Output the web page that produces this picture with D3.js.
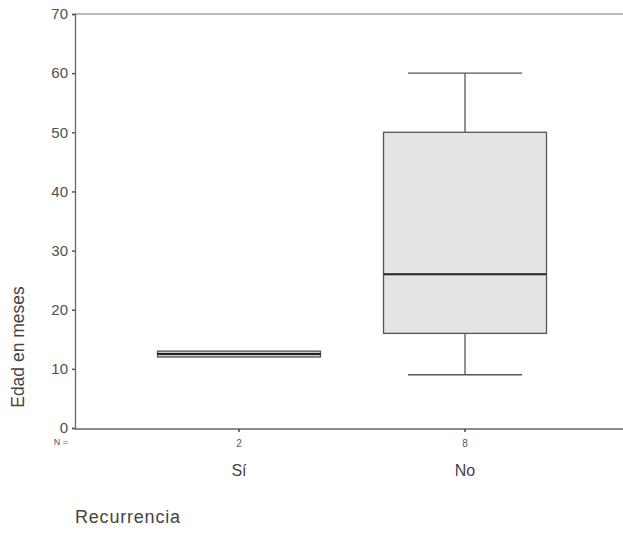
<!DOCTYPE html>
<html><head><meta charset="utf-8">
<script src="https://cdn.jsdelivr.net/npm/d3@7"></script>
<style>body{margin:0;background:#fff}svg{display:block}text{font-family:"Liberation Sans",Arial,sans-serif}</style>
</head><body>
<script>
const categories = ["Sí", "No"];
const counts = [2, 8];
const whiskerLow = [12, 9];
const q1 = [12, 16];
const medians = [12.5, 26];
const q3 = [13, 50];
const whiskerHigh = [13, 60];
const yTicks = [0, 10, 20, 30, 40, 50, 60, 70];

const W = 623, H = 534;
const svg = d3.select("body").append("svg").attr("width", W).attr("height", H);
const mLeft = 75, mRight = 623, mTop = 14, mBottom = 428;

const y = d3.scaleLinear().domain([0, 70]).range([mBottom, mTop]);
const x = d3.scaleBand().domain(categories).range([mLeft, 629]).paddingInner(0.279).paddingOuter(0.365);
const bw = x.bandwidth();

// frame
svg.append("line").attr("x1", mLeft).attr("x2", mRight).attr("y1", mTop).attr("y2", mTop).attr("stroke", "#777").attr("stroke-width", 1.2);
svg.append("line").attr("x1", mLeft).attr("x2", mRight).attr("y1", mBottom + 1).attr("y2", mBottom + 1).attr("stroke", "#666").attr("stroke-width", 1.3);

const yAxis = d3.axisLeft(y).tickValues(yTicks).tickSize(3).tickPadding(4);
const ga = svg.append("g").attr("transform", `translate(${mLeft},0)`).call(yAxis);
ga.select(".domain").attr("stroke", "#666").attr("stroke-width", 1.3);
ga.selectAll(".tick line").attr("stroke", "#555").attr("stroke-width", 1.5);
ga.selectAll(".tick text").style("font-size", "15px").style("font-family", "Liberation Sans, Arial, sans-serif").attr("fill", "#505050");

// x ticks
svg.selectAll(".xt").data(categories).enter().append("line")
  .attr("x1", d => x(d) + bw / 2).attr("x2", d => x(d) + bw / 2)
  .attr("y1", mBottom + 1).attr("y2", mBottom + 4).attr("stroke", "#444").attr("stroke-width", 1.5);

// N labels
svg.append("text").attr("x", 61).attr("y", 445).attr("text-anchor", "middle").style("font-size", "9px").attr("fill", "#555").text("N =");
svg.selectAll(".nl").data(categories).enter().append("text")
  .attr("x", d => x(d) + bw / 2).attr("y", 447).attr("text-anchor", "middle")
  .style("font-size", "10px").attr("fill", "#555").text((d, i) => counts[i]);
svg.selectAll(".cl").data(categories).enter().append("text")
  .attr("x", d => x(d) + bw / 2).attr("y", 476).attr("text-anchor", "middle")
  .style("font-size", "16px").attr("fill", "#444").text(d => d);

// boxes
const g = svg.selectAll(".box").data(categories).enter().append("g");
g.each(function(d, i) {
  const s = d3.select(this);
  const cx = x(d) + bw / 2, x0 = x(d);
  const capW = bw * 0.7;
  if (whiskerHigh[i] > q3[i]) {
    s.append("line").attr("x1", cx).attr("x2", cx).attr("y1", y(q3[i])).attr("y2", y(whiskerHigh[i])).attr("stroke", "#555").attr("stroke-width", 1.3);
    s.append("line").attr("x1", cx - capW / 2).attr("x2", cx + capW / 2).attr("y1", y(whiskerHigh[i])).attr("y2", y(whiskerHigh[i])).attr("stroke", "#555").attr("stroke-width", 1.3);
  }
  if (whiskerLow[i] < q1[i]) {
    s.append("line").attr("x1", cx).attr("x2", cx).attr("y1", y(q1[i])).attr("y2", y(whiskerLow[i])).attr("stroke", "#555").attr("stroke-width", 1.3);
    s.append("line").attr("x1", cx - capW / 2).attr("x2", cx + capW / 2).attr("y1", y(whiskerLow[i])).attr("y2", y(whiskerLow[i])).attr("stroke", "#555").attr("stroke-width", 1.3);
  }
  s.append("rect").attr("x", x0).attr("width", bw).attr("y", y(q3[i])).attr("height", y(q1[i]) - y(q3[i]))
    .attr("fill", i === 0 ? "#c8c8c8" : "#e4e4e4").attr("stroke", "#555").attr("stroke-width", 1.3);
  s.append("line").attr("x1", x0).attr("x2", x0 + bw).attr("y1", y(medians[i])).attr("y2", y(medians[i])).attr("stroke", "#222").attr("stroke-width", 2);
});

// titles
svg.append("text").attr("transform", "translate(24,347) rotate(-90)").attr("text-anchor", "middle").style("font-size", "17.5px").attr("fill", "#444").text("Edad en meses");
svg.append("text").attr("x", 75).attr("y", 523).style("font-size", "18px").style("letter-spacing", "0.8px").attr("fill", "#444").text("Recurrencia");
</script>
</body></html>
